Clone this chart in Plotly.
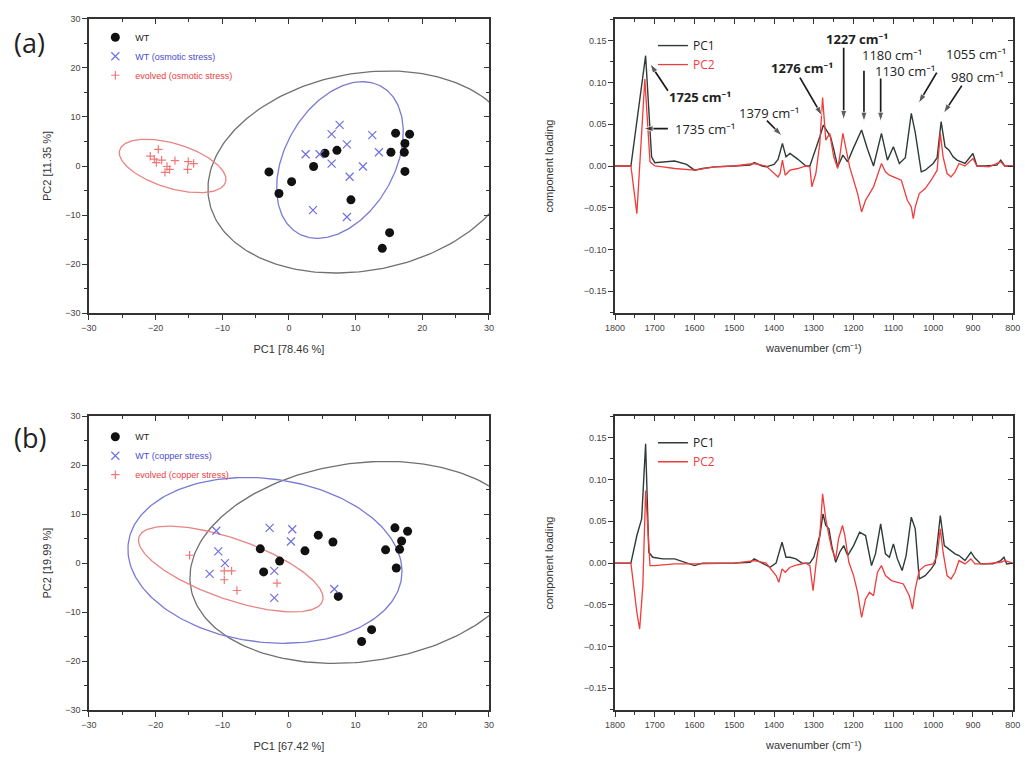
import numpy as np
import plotly.graph_objects as go

# ---------------- PCA scores: osmotic stress (a) ----------------
wt_a_pc1 = [-3.0, 0.4, -1.5, 3.7, 5.4, 7.2, 9.3, 16.0, 18.1, 17.4, 15.3, 17.3, 17.4, 15.1, 14.0]
wt_a_pc2 = [-1.2, -3.2, -5.6, -0.1, 2.6, 3.2, -6.9, 6.7, 6.5, 4.6, 2.8, 2.8, -1.1, -13.6, -16.8]
osm_a_pc1 = [7.6, 6.4, 12.5, 8.7, 2.5, 4.6, 13.5, 6.4, 11.1, 9.1, 3.6, 8.7]
osm_a_pc2 = [8.4, 6.5, 6.3, 4.4, 2.4, 2.4, 2.8, 0.5, -0.1, -2.2, -9.0, -10.4]
evo_a_pc1 = [-19.6, -20.8, -20.2, -19.1, -19.9, -18.3, -18.6, -17.9, -17.1, -15.1, -14.3, -15.2]
evo_a_pc2 = [3.4, 2.0, 1.4, 1.2, 0.7, -0.1, -1.3, -0.7, 1.1, 0.9, 0.5, -0.7]

# ---------------- PCA scores: copper stress (b) ----------------
wt_b_pc1 = [-4.3, -3.8, -1.4, 2.4, 4.4, 6.6, 7.4, 10.9, 12.4, 14.5, 15.9, 16.1, 16.6, 16.9, 17.8]
wt_b_pc2 = [2.9, -1.8, 0.4, 2.5, 5.7, 4.3, -6.8, -16.0, -13.6, 2.7, 7.2, -1.0, 2.8, 4.5, 6.5]
cu_b_pc1 = [-10.9, -10.6, -9.6, -11.9, -2.9, 0.5, 0.3, -2.2, -2.2, 6.8]
cu_b_pc2 = [6.6, 2.4, 0.0, -2.2, 7.2, 6.9, 4.4, -1.6, -7.1, -5.3]
evo_b_pc1 = [-14.9, -9.7, -8.6, -9.7, -7.8, -1.8]
evo_b_pc2 = [1.6, -1.6, -1.6, -3.4, -5.6, -4.1]

# 95 % confidence ellipses: centre x, centre y, semi-axis a, semi-axis b, tilt (deg)
ell_wt_a = [10.95, -1.22, 24.0, 19.56, 27.9]
ell_osm_a = [7.65, 1.22, 16.47, 8.61, 73.4]
ell_evo_a = [-17.45, 0.0, 8.64, 4.37, -25.9]
ell_wt_b = [10.65, 0.14, 26.0, 20.0, 17.6]
ell_cu_b = [-3.6, 0.55, 20.9, 16.5, -17.1]
ell_evo_b = [-8.73, -1.22, 15.3, 5.87, -27.4]

# ---------------- loadings (a) ----------------
wn_a1 = [1800, 1760, 1723, 1708, 1700, 1680, 1650, 1620, 1600, 1580, 1550, 1500, 1460, 1450,
         1430, 1420, 1400, 1390, 1379, 1370, 1360, 1340, 1320, 1310, 1295, 1285, 1276, 1265,
         1258, 1250, 1240, 1227, 1215, 1200, 1180, 1165, 1150, 1130, 1115, 1100, 1085, 1070,
         1055, 1045, 1030, 1020, 1000, 990, 980, 970, 960, 950, 940, 920, 900, 890, 870, 840,
         830, 820, 800]
pc1_a = [0.0, 0.0, 0.132, 0.011, 0.004, 0.005, 0.006, 0.002, -0.005, -0.003, -0.001, 0.0, 0.001,
         0.004, 0.0, -0.001, 0.002, 0.008, 0.027, 0.011, 0.015, 0.008, 0.0, 0.0, 0.02, 0.035,
         0.049, 0.041, 0.035, 0.02, -0.001, 0.013, 0.005, 0.022, 0.043, 0.02, 0.0, 0.039, 0.007,
         0.023, 0.003, 0.01, 0.063, 0.04, -0.007, -0.005, 0.003, 0.01, 0.053, 0.023, 0.019,
         0.011, 0.007, 0.003, 0.015, 0.0, 0.0, 0.001, 0.007, 0.0, 0.0]
wn_a2 = [1800, 1760, 1745, 1725, 1712, 1700, 1680, 1650, 1600, 1550, 1500, 1450, 1420, 1390,
         1385, 1379, 1372, 1360, 1340, 1320, 1310, 1305, 1295, 1285, 1278, 1270, 1260, 1250,
         1240, 1235, 1227, 1220, 1210, 1200, 1190, 1180, 1170, 1160, 1150, 1140, 1130, 1120,
         1110, 1100, 1080, 1065, 1055, 1050, 1045, 1035, 1020, 1005, 990, 982, 975, 965, 955,
         945, 935, 920, 900, 890, 860, 830, 820, 800]
pc2_a = [0.0, 0.0, -0.057, 0.104, 0.005, 0.0, -0.001, -0.003, -0.005, -0.001, 0.0, 0.003, 0.0,
         -0.013, -0.009, 0.007, -0.011, -0.005, -0.003, 0.0, -0.001, -0.025, -0.009, 0.027,
         0.082, 0.031, 0.039, 0.011, -0.003, 0.011, 0.039, 0.023, -0.001, -0.017, -0.033,
         -0.055, -0.041, -0.033, -0.025, -0.011, 0.003, -0.007, -0.011, -0.013, -0.017, -0.041,
         -0.049, -0.063, -0.049, -0.033, -0.027, -0.017, -0.005, 0.039, 0.011, -0.009, -0.013,
         -0.007, 0.003, 0.0, 0.009, 0.0, -0.001, 0.005, 0.0, 0.0]

# ---------------- loadings (b) ----------------
wn_b1 = [1800, 1760, 1745, 1733, 1723, 1715, 1705, 1680, 1650, 1620, 1600, 1580, 1500, 1460,
         1450, 1430, 1410, 1395, 1380, 1370, 1360, 1345, 1330, 1310, 1300, 1285, 1277, 1270,
         1262, 1255, 1245, 1235, 1225, 1215, 1200, 1185, 1170, 1155, 1145, 1132, 1120, 1110,
         1100, 1090, 1078, 1068, 1055, 1045, 1035, 1020, 1005, 995, 982, 972, 960, 945, 935,
         920, 905, 895, 880, 850, 830, 822, 815, 800]
pc1_b = [0.0, 0.0, 0.033, 0.053, 0.143, 0.013, 0.007, 0.005, 0.005, 0.0, -0.003, 0.0, 0.0,
         0.001, 0.005, 0.0, -0.005, 0.0, 0.025, 0.007, 0.007, 0.005, 0.0, 0.0, 0.007, 0.033,
         0.059, 0.045, 0.041, 0.021, 0.001, 0.013, 0.021, 0.009, 0.021, 0.037, 0.033, -0.003,
         0.011, 0.047, 0.011, 0.007, 0.023, 0.005, -0.009, 0.009, 0.055, 0.041, -0.019, -0.015,
         -0.007, 0.0, 0.057, 0.021, 0.017, 0.011, 0.009, 0.003, 0.013, 0.006, -0.001, -0.001,
         0.003, 0.007, -0.001, 0.0]
wn_b2 = [1800, 1760, 1745, 1738, 1730, 1723, 1712, 1700, 1650, 1600, 1500, 1450, 1420, 1395,
         1388, 1380, 1372, 1360, 1340, 1320, 1310, 1302, 1295, 1285, 1278, 1270, 1262, 1255,
         1245, 1238, 1228, 1222, 1212, 1200, 1190, 1180, 1170, 1160, 1150, 1140, 1130, 1120,
         1105, 1090, 1075, 1060, 1052, 1045, 1035, 1020, 1000, 990, 982, 975, 965, 955, 945,
         935, 920, 905, 895, 870, 830, 820, 800]
pc2_b = [0.0, 0.0, -0.059, -0.079, -0.027, 0.087, -0.003, -0.003, -0.001, -0.001, 0.0, 0.003,
         0.0, -0.015, -0.023, -0.007, -0.011, -0.005, -0.002, 0.0, -0.003, -0.033, -0.003,
         0.033, 0.083, 0.053, 0.033, 0.017, 0.005, 0.029, 0.045, 0.033, 0.001, -0.015, -0.035,
         -0.065, -0.043, -0.035, -0.039, -0.011, -0.003, -0.015, -0.021, -0.023, -0.025,
         -0.039, -0.055, -0.031, -0.009, -0.003, -0.001, 0.009, 0.041, 0.013, -0.015, -0.019,
         -0.011, 0.003, -0.001, 0.005, -0.001, -0.001, 0.001, 0.003, 0.0]

# peak labels on loading plot (a): text, text x, text y, bold
peak_text = [
    ("1725 cm⁻¹", 1586, 0.082, True),
    ("1735 cm⁻¹", 1574, 0.0448, False),
    ("1379 cm⁻¹", 1413, 0.064, False),
    ("1276 cm⁻¹", 1330, 0.1177, True),
    ("1227 cm⁻¹", 1192, 0.1524, True),
    ("1180 cm⁻¹", 1104, 0.1333, False),
    ("1130 cm⁻¹", 1071, 0.1141, False),
    ("1055 cm⁻¹", 893, 0.1345, False),
    ("980 cm⁻¹", 888, 0.107, False),
]
# pointer arrows: tail x, tail y, head x, head y
peak_arrows = [
    (1667, 0.090, 1712, 0.1225),
    (1667, 0.0448, 1728, 0.0448),
    (1418, 0.0544, 1380, 0.036),
    (1335, 0.1058, 1279, 0.060),
    (1225, 0.1416, 1225, 0.055),
    (1174, 0.1141, 1174, 0.053),
    (1132, 0.1046, 1132, 0.053),
    (991, 0.1117, 1037, 0.075),
    (928, 0.0962, 974, 0.063),
]

# ---------------- styling ----------------
C_WT = "#111111"
C_BLUE = "#7070e0"
C_RED = "#f07878"
C_EL_WT = "#707070"
C_EL_BLUE = "#7a7ad6"
C_EL_RED = "#e88484"
C_PC1 = "#2f3b37"
C_PC2 = "#f03c3c"
AX = "#333333"
FONT = "Liberation Sans, Arial, sans-serif"
FONT_ANN = "Open Sans, Noto Sans, DejaVu Sans, sans-serif"


def ellipse(params, n=240):
    cx, cy, a, b, ang = params
    t = np.linspace(0, 2 * np.pi, n)
    th = np.deg2rad(ang)
    x = cx + a * np.cos(t) * np.cos(th) - b * np.sin(t) * np.sin(th)
    y = cy + a * np.cos(t) * np.sin(th) + b * np.sin(t) * np.cos(th)
    return x, y


fig = go.Figure()


def score_panel(xa, ya, lg, wt, st, ev, ells, st_name, ev_name):
    for p, col in zip(ells, [C_EL_WT, C_EL_BLUE, C_EL_RED]):
        ex, ey = ellipse(p)
        fig.add_trace(go.Scatter(x=ex, y=ey, mode="lines", xaxis=xa, yaxis=ya,
                                 line=dict(color=col, width=1.3), showlegend=False,
                                 hoverinfo="skip"))
    fig.add_trace(go.Scatter(x=wt[0], y=wt[1], mode="markers", xaxis=xa, yaxis=ya,
                             name="WT", legend=lg,
                             marker=dict(symbol="circle", size=9, color=C_WT)))
    fig.add_trace(go.Scatter(x=st[0], y=st[1], mode="markers", xaxis=xa, yaxis=ya,
                             name=f"<span style='color:#4a4ad0'>{st_name}</span>", legend=lg,
                             marker=dict(symbol="x-thin-open", size=8, color=C_BLUE,
                                         line=dict(color=C_BLUE, width=1.2))))
    fig.add_trace(go.Scatter(x=ev[0], y=ev[1], mode="markers", xaxis=xa, yaxis=ya,
                             name=f"<span style='color:#e84040'>{ev_name}</span>", legend=lg,
                             marker=dict(symbol="cross-thin-open", size=6, color=C_RED,
                                         line=dict(color=C_RED, width=1.2))))


score_panel("x", "y", "legend", (wt_a_pc1, wt_a_pc2), (osm_a_pc1, osm_a_pc2),
            (evo_a_pc1, evo_a_pc2), [ell_wt_a, ell_osm_a, ell_evo_a],
            "WT (osmotic stress)", "evolved (osmotic stress)")
score_panel("x3", "y3", "legend3", (wt_b_pc1, wt_b_pc2), (cu_b_pc1, cu_b_pc2),
            (evo_b_pc1, evo_b_pc2), [ell_wt_b, ell_cu_b, ell_evo_b],
            "WT (copper stress)", "evolved (copper stress)")


def loading_panel(xa, ya, lg, w1, p1, w2, p2):
    fig.add_trace(go.Scatter(x=w1, y=p1, mode="lines", xaxis=xa, yaxis=ya, name="PC1",
                             legend=lg, line=dict(color=C_PC1, width=1.4)))
    fig.add_trace(go.Scatter(x=w2, y=p2, mode="lines", xaxis=xa, yaxis=ya,
                             name=f"<span style='color:{C_PC2}'>PC2</span>",
                             legend=lg, line=dict(color=C_PC2, width=1.3)))


loading_panel("x2", "y2", "legend2", wn_a1, pc1_a, wn_a2, pc2_a)
loading_panel("x4", "y4", "legend4", wn_b1, pc1_b, wn_b2, pc2_b)

# pointer arrows for the peak labels
for tx, ty, hx, hy in peak_arrows:
    fig.add_trace(go.Scatter(x=[tx, hx], y=[ty, hy], xaxis="x2", yaxis="y2",
                             mode="lines+markers", showlegend=False, hoverinfo="skip",
                             line=dict(color="#1a1a1a", width=1.7),
                             marker=dict(symbol="arrow", size=[0, 10], angleref="previous",
                                         color="#1a1a1a")))

# ---------------- axes ----------------
XL = [0.0868, 0.477]
XR = [0.600, 0.988]
YT = [0.587, 0.975]
YB = [0.0633, 0.451]

tickfont = dict(family=FONT, size=9, color="#444444")
titlefont = dict(family=FONT, size=11, color="#333333")


def axis(domain, rng, dtick, minor, title, anchor, fmt=None, standoff=8):
    d = dict(domain=domain, range=rng, dtick=dtick, tick0=0, anchor=anchor, automargin=False,
             showgrid=False, zeroline=False, showline=True, linecolor=AX, linewidth=1.5,
             mirror=True, ticks="outside", ticklen=5, tickwidth=1.2, tickcolor=AX,
             minor=dict(dtick=minor, ticks="outside", ticklen=3, tickwidth=1, tickcolor=AX,
                        showgrid=False),
             tickfont=tickfont,
             title=dict(text=title, font=titlefont, standoff=standoff))
    if fmt:
        d["tickformat"] = fmt
    return d


def inner(over, side, rng, dtick, minor, anchor, domain):
    return dict(overlaying=over, side=side, range=rng, dtick=dtick, tick0=0, anchor=anchor,
                domain=domain, automargin=False, showgrid=False, zeroline=False,
                showline=False, showticklabels=False, ticks="inside", ticklen=5,
                tickwidth=1.2, tickcolor=AX,
                minor=dict(dtick=minor, ticks="inside", ticklen=3, tickwidth=1,
                           tickcolor=AX, showgrid=False))


SR = [-30, 30]
LR = [1800, 800]
LY = [-0.176, 0.176]

fig.update_layout(
    template="none",
    xaxis=axis(XL, SR, 10, 5, "PC1 [78.46 %]", "y", standoff=14),
    yaxis=axis(YT, SR, 10, 5, "PC2 [11.35 %]", "x", standoff=11),
    xaxis2=axis(XR, LR, 100, 50, "wavenumber (cm⁻¹)", "y2", standoff=13),
    yaxis2=axis(YT, LY, 0.05, 0.025, "component loading", "x2", fmt=".2f", standoff=28),
    xaxis3=axis(XL, SR, 10, 5, "PC1 [67.42 %]", "y3", standoff=14),
    yaxis3=axis(YB, SR, 10, 5, "PC2 [19.99 %]", "x3", standoff=11),
    xaxis4=axis(XR, LR, 100, 50, "wavenumber (cm⁻¹)", "y4", standoff=13),
    yaxis4=axis(YB, LY, 0.05, 0.025, "component loading", "x4", fmt=".2f", standoff=28),
    xaxis5=inner("x", "top", SR, 10, 5, "y", XL),
    yaxis5=inner("y", "right", SR, 10, 5, "x", YT),
    xaxis6=inner("x2", "top", LR, 100, 50, "y2", XR),
    yaxis6=inner("y2", "right", LY, 0.05, 0.025, "x2", YT),
    xaxis7=inner("x3", "top", SR, 10, 5, "y3", XL),
    yaxis7=inner("y3", "right", SR, 10, 5, "x3", YB),
    xaxis8=inner("x4", "top", LR, 100, 50, "y4", XR),
    yaxis8=inner("y4", "right", LY, 0.05, 0.025, "x4", YB),
)

# empty carriers so the inner tick axes get drawn
for xa, ya in [("x5", "y"), ("x", "y5"), ("x6", "y2"), ("x2", "y6"),
               ("x7", "y3"), ("x3", "y7"), ("x8", "y4"), ("x4", "y8")]:
    fig.add_trace(go.Scatter(x=[None], y=[None], xaxis=xa, yaxis=ya, mode="markers",
                             showlegend=False, hoverinfo="skip"))

leg_common = dict(bgcolor="rgba(0,0,0,0)", borderwidth=0, xanchor="left", yanchor="top",
                  tracegroupgap=0, itemwidth=30)
fig.update_layout(
    legend=dict(x=0.093, y=0.970, font=dict(family=FONT, size=9, color="#222"), **leg_common),
    legend3=dict(x=0.093, y=0.443, font=dict(family=FONT, size=9, color="#222"), **leg_common),
    legend2=dict(x=0.637, y=0.959, font=dict(family=FONT_ANN, size=12, color="#222"),
                 **leg_common),
    legend4=dict(x=0.637, y=0.435, font=dict(family=FONT_ANN, size=12, color="#222"),
                 **leg_common),
)

ann = []
for txt, xx, yy, bold in peak_text:
    ann.append(dict(x=xx, y=yy, xref="x2", yref="y2", showarrow=False,
                    text=f"<b>{txt}</b>" if bold else txt,
                    font=dict(family=FONT_ANN, size=13, color="#222")))
for lbl, yy in [("(a)", 1 - 43 / 758), ("(b)", 1 - 437 / 758)]:
    ann.append(dict(x=12 / 1025, y=yy, xref="paper", yref="paper", xanchor="left",
                    yanchor="middle", showarrow=False, text=lbl,
                    font=dict(family=FONT_ANN, size=27, color="#222")))

fig.update_layout(annotations=ann, width=1025, height=758,
                  margin=dict(l=0, r=0, t=0, b=0, autoexpand=False), paper_bgcolor="white",
                  plot_bgcolor="white", showlegend=True)

fig.write_html("out.html")
